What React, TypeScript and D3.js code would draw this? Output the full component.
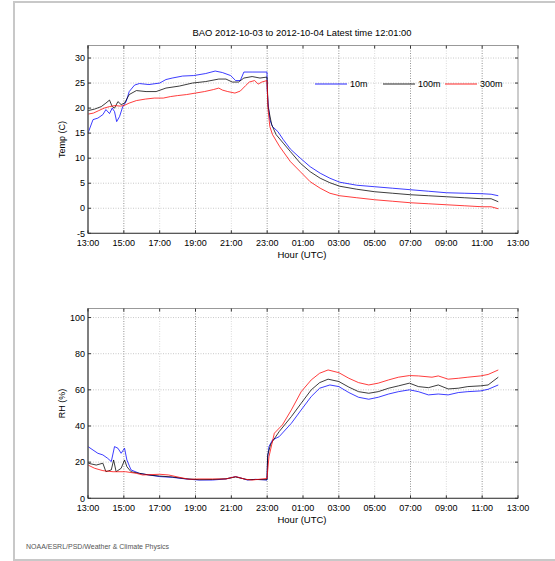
import React from "react";
import * as d3 from "d3";

// Hours since 2012-10-03 13:00 UTC
const xTickHours = [0, 2, 4, 6, 8, 10, 12, 14, 16, 18, 20, 22, 24];
const xTickLabels = ["13:00", "15:00", "17:00", "19:00", "21:00", "23:00", "01:00", "03:00", "05:00", "07:00", "09:00", "11:00", "13:00"];
const tempTicks = [-5, 0, 5, 10, 15, 20, 25, 30];
const rhTicks = [0, 20, 40, 60, 80, 100];
const seriesNames = ["10m", "100m", "300m"];
const seriesColors = ["#0000ff", "#000000", "#ff0000"];

// Temperature (C)
const t10Hours = [0, 0.28, 0.55, 0.83, 1.0, 1.2, 1.35, 1.48, 1.6, 1.76, 1.94, 2.13, 2.3, 2.6, 2.87, 3.4, 4.0, 4.35, 4.7, 5.28, 5.9, 6.57, 7.1, 7.5, 7.96, 8.24, 8.5, 8.7, 9.16, 9.6, 9.99, 10.0, 10.05, 10.15, 10.3, 10.6, 10.9, 11.3, 11.85, 12.4, 12.96, 13.5, 14.05, 15, 16, 17, 18, 19, 20, 21, 22, 22.5, 22.9];
const t10Values = [15.0, 17.7, 18.0, 18.7, 19.7, 18.9, 20.0, 19.3, 17.3, 18.3, 20.3, 21.3, 23.3, 24.6, 24.9, 24.7, 25.0, 25.7, 26.0, 26.4, 26.5, 26.9, 27.4, 27.1, 26.5, 25.5, 25.5, 27.2, 27.2, 27.2, 27.2, 23.7, 21.0, 17.7, 16.3, 15.3, 13.7, 11.8, 10.0, 8.3, 7.0, 6.0, 5.2, 4.6, 4.3, 4.0, 3.7, 3.4, 3.1, 3.0, 2.9, 2.8, 2.5];

const t100Hours = [0, 0.37, 0.74, 1.0, 1.2, 1.35, 1.48, 1.67, 1.85, 2.04, 2.3, 2.7, 3.24, 3.8, 4.35, 5.1, 5.83, 6.57, 7.3, 7.7, 8.05, 8.4, 8.7, 9.16, 9.6, 9.99, 10.05, 10.25, 10.5, 10.9, 11.3, 11.85, 12.4, 12.96, 13.5, 14.05, 15, 16, 17, 18, 19, 20, 21, 22, 22.5, 22.9];
const t100Values = [19.5, 19.8, 20.3, 21.0, 21.6, 20.3, 20.0, 21.3, 20.7, 21.0, 22.7, 23.5, 23.3, 23.3, 24.0, 24.4, 25.0, 25.3, 25.8, 25.8, 25.2, 25.2, 26.0, 26.3, 26.0, 26.2, 20.3, 16.7, 14.7, 13.0, 11.3, 9.0, 7.3, 6.0, 5.1, 4.4, 3.8, 3.3, 3.0, 2.7, 2.5, 2.3, 2.1, 1.9, 1.9, 1.3];

const t300Hours = [0, 0.3, 0.6, 0.9, 1.2, 1.5, 1.8, 2.0, 2.3, 2.7, 3.2, 3.7, 4.2, 4.6, 5.0, 5.5, 6.0, 6.5, 7.0, 7.3, 7.5, 7.8, 8.2, 8.5, 8.8, 9.0, 9.3, 9.5, 9.7, 9.99, 10.05, 10.15, 10.3, 10.7, 11.3, 11.85, 12.4, 12.96, 13.5, 14.05, 15, 16, 17, 18, 19, 20, 21, 22, 22.5, 22.9];
const t300Values = [18.8, 19.0, 19.5, 20.0, 20.3, 20.5, 20.4, 20.5, 21.0, 21.5, 21.8, 22.0, 22.0, 22.3, 22.5, 22.7, 23.0, 23.3, 23.7, 24.0, 23.6, 23.3, 23.0, 23.4, 24.5, 25.2, 25.5, 24.8, 25.2, 25.5, 19.7, 16.3, 14.7, 12.3, 9.3, 7.3, 5.3, 4.0, 3.0, 2.5, 2.1, 1.7, 1.4, 1.1, 0.9, 0.7, 0.5, 0.3, 0.3, -0.1];

// Relative humidity (%)
const rh10Hours = [0, 0.28, 0.55, 0.83, 1.1, 1.3, 1.48, 1.67, 1.85, 2.04, 2.17, 2.4, 2.87, 3.4, 4.0, 4.7, 5.46, 6.2, 6.94, 7.7, 8.24, 8.6, 8.9, 9.35, 9.99, 10.02, 10.1, 10.3, 10.67, 11.35, 11.9, 12.46, 12.93, 13.5, 14.0, 14.56, 15.1, 15.67, 16.2, 16.78, 17.33, 17.94, 18.44, 19.0, 19.55, 20.1, 20.67, 21.2, 21.9, 22.33, 22.9];
const rh10Values = [28.6, 26.7, 24.9, 24.0, 22.1, 20.3, 28.6, 27.7, 24.9, 27.7, 21.2, 15.7, 13.8, 12.9, 12.0, 11.6, 10.7, 10.1, 10.1, 10.7, 12.0, 11.0, 10.1, 10.5, 10.1, 22.0, 28.6, 32.3, 34.1, 41.5, 48.9, 56.3, 60.9, 62.7, 61.8, 58.5, 55.9, 54.8, 55.9, 57.7, 59.0, 60.0, 59.0, 57.2, 57.7, 57.2, 58.5, 59.0, 59.4, 60.3, 62.7];

const rh100Hours = [0, 0.46, 0.83, 1.0, 1.3, 1.43, 1.57, 1.85, 2.04, 2.17, 2.4, 2.87, 3.4, 4.0, 4.7, 5.46, 6.2, 6.94, 7.7, 8.24, 8.6, 8.9, 9.35, 9.99, 10.03, 10.2, 10.67, 11.35, 11.9, 12.46, 12.93, 13.4, 14.0, 14.56, 15.1, 15.67, 16.2, 16.78, 17.33, 17.94, 18.44, 19.0, 19.55, 20.1, 20.67, 21.2, 21.9, 22.33, 22.9];
const rh100Values = [19.4, 18.4, 19.4, 14.7, 15.7, 21.2, 14.7, 16.6, 21.2, 17.5, 14.7, 13.8, 12.9, 12.3, 11.8, 10.8, 10.3, 10.4, 10.8, 11.8, 11.0, 10.3, 10.4, 10.3, 24.0, 30.0, 36.9, 45.2, 52.6, 60.0, 64.0, 65.9, 64.6, 61.5, 59.0, 58.1, 59.0, 60.9, 62.2, 63.7, 61.8, 61.2, 62.7, 60.5, 60.9, 61.8, 62.2, 62.7, 67.0];

const rh300Hours = [0, 0.37, 0.83, 1.4, 2.1, 2.7, 3.05, 4.0, 4.5, 5.1, 5.65, 6.2, 6.94, 7.7, 8.24, 8.8, 9.16, 9.99, 10.1, 10.4, 10.85, 11.35, 11.9, 12.46, 12.93, 13.4, 14.0, 14.56, 15.1, 15.67, 16.2, 16.78, 17.33, 17.94, 18.44, 19.2, 19.55, 20.1, 20.67, 21.2, 21.9, 22.33, 22.9];
const rh300Values = [18.4, 16.6, 15.3, 14.7, 14.7, 13.8, 12.9, 13.3, 12.9, 11.6, 10.5, 10.7, 10.7, 10.7, 12.0, 10.5, 10.1, 11.0, 23.0, 36.0, 40.6, 48.9, 59.0, 65.5, 69.2, 71.0, 69.5, 66.4, 64.0, 62.7, 63.7, 65.5, 67.0, 67.9, 67.7, 67.0, 67.7, 65.9, 66.4, 67.0, 67.7, 68.5, 71.0];

const titleText = "BAO 2012-10-03 to 2012-10-04 Latest time 12:01:00";
const footerText = "NOAA/ESRL/PSD/Weather & Climate Physics";

const W = 555;
const H = 561;
const FONT = "'Liberation Sans', Arial, sans-serif";

type Panel = {
  top: number;
  bottom: number;
  domain: [number, number];
  ticks: number[];
  ylabel: string;
  series: { hours: number[]; values: number[] }[];
  legend: boolean;
};

const LEFT = 88;
const RIGHT = 518;

function PanelView({ p }: { p: Panel }) {
  const x = d3.scaleLinear().domain([0, 24]).range([LEFT, RIGHT]);
  const y = d3.scaleLinear().domain(p.domain).range([p.bottom, p.top]);
  const line = d3
    .line<[number, number]>()
    .x((d) => x(d[0]))
    .y((d) => y(d[1]));
  const strongX = new Set([2, 6, 10, 14, 18, 22]);
  return (
    <g>
      {/* grid */}
      {xTickHours.slice(1, -1).map((h) => (
        <line
          key={"gx" + h}
          x1={x(h)}
          x2={x(h)}
          y1={p.top}
          y2={p.bottom}
          stroke={strongX.has(h) ? "#777" : "#cfcfcf"}
          strokeWidth={0.8}
          strokeDasharray="1,1.5"
        />
      ))}
      {p.ticks.slice(1).map((v) => (
        <line
          key={"gy" + v}
          x1={LEFT}
          x2={RIGHT}
          y1={y(v)}
          y2={y(v)}
          stroke="#bbb"
          strokeWidth={0.8}
          strokeDasharray="1,1.5"
        />
      ))}
      {/* series */}
      {p.series.map((s, i) => (
        <path
          key={"s" + i}
          d={line(s.hours.map((h, k) => [h, s.values[k]] as [number, number])) || ""}
          fill="none"
          stroke={seriesColors[i]}
          strokeWidth={0.9}
          strokeOpacity={0.85}
        />
      ))}
      {/* box */}
      <rect x={LEFT} y={p.top} width={RIGHT - LEFT} height={p.bottom - p.top} fill="none" stroke="#999" strokeWidth={1} />
      <line x1={LEFT} x2={LEFT} y1={p.top} y2={p.bottom} stroke="#333" strokeWidth={1} />
      <line x1={LEFT} x2={RIGHT} y1={p.bottom} y2={p.bottom} stroke="#444" strokeWidth={1} />
      {/* x ticks */}
      {xTickHours.map((h, i) => (
        <g key={"xt" + i}>
          <line x1={x(h)} x2={x(h)} y1={p.bottom} y2={p.bottom - 3} stroke="#333" strokeWidth={1} />
          <line x1={x(h)} x2={x(h)} y1={p.top} y2={p.top + 3} stroke="#333" strokeWidth={1} />
          <text x={x(h)} y={p.bottom + 12.5} textAnchor="middle" fontSize={9} fontFamily={FONT} fill="#000">
            {xTickLabels[i]}
          </text>
        </g>
      ))}
      {/* y ticks */}
      {p.ticks.map((v) => (
        <g key={"yt" + v}>
          <line x1={LEFT} x2={LEFT + 3} y1={y(v)} y2={y(v)} stroke="#333" strokeWidth={1} />
          <line x1={RIGHT} x2={RIGHT - 3} y1={y(v)} y2={y(v)} stroke="#333" strokeWidth={1} />
          <text x={LEFT - 3} y={y(v) + 3.2} textAnchor="end" fontSize={9} fontFamily={FONT} fill="#000">
            {v}
          </text>
        </g>
      ))}
      <text x={302} y={p.bottom + 25} textAnchor="middle" fontSize={9.5} fontFamily={FONT} fill="#000">
        Hour (UTC)
      </text>
      <text
        transform={`translate(${LEFT - 23},${(p.top + p.bottom) / 2}) rotate(-90)`}
        textAnchor="middle"
        fontSize={9}
        fontFamily={FONT}
        fill="#000"
      >
        {p.ylabel}
      </text>
      {p.legend &&
        seriesNames.map((n, i) => {
          const lx = [315, 383, 445][i];
          const ly = 84;
          return (
            <g key={"lg" + i}>
              <line x1={lx} x2={lx + 32} y1={ly} y2={ly} stroke={seriesColors[i]} strokeWidth={1} strokeOpacity={0.85} />
              <text x={lx + 35} y={ly + 3.2} fontSize={9} fontFamily={FONT} fill="#000">
                {n}
              </text>
            </g>
          );
        })}
    </g>
  );
}

export default function App() {
  const topPanel: Panel = {
    top: 45.5,
    bottom: 233.3,
    domain: [-5, 32.5],
    ticks: tempTicks,
    ylabel: "Temp (C)",
    series: [
      { hours: t10Hours, values: t10Values },
      { hours: t100Hours, values: t100Values },
      { hours: t300Hours, values: t300Values },
    ],
    legend: true,
  };
  const bottomPanel: Panel = {
    top: 308.5,
    bottom: 498.3,
    domain: [0, 105],
    ticks: rhTicks,
    ylabel: "RH (%)",
    series: [
      { hours: rh10Hours, values: rh10Values },
      { hours: rh100Hours, values: rh100Values },
      { hours: rh300Hours, values: rh300Values },
    ],
    legend: false,
  };
  return (
    <svg
      width={W}
      height={H}
      style={{ position: "absolute", left: 0, top: 0, background: "#fff" }}
    >
      <rect x={0} y={0} width={W} height={H} fill="#fff" />
      <line x1={14} x2={14} y1={1} y2={561} stroke="#c8c8c8" strokeWidth={2} />
      <line x1={13} x2={555} y1={2} y2={2} stroke="#c8c8c8" strokeWidth={2} />
      <line x1={13} x2={555} y1={560} y2={560} stroke="#c8c8c8" strokeWidth={2} />
      <text x={302} y={36} textAnchor="middle" fontSize={9.4} fontFamily={FONT} fill="#000">
        {titleText}
      </text>
      <PanelView p={topPanel} />
      <PanelView p={bottomPanel} />
      <text x={26} y={549} fontSize={7} fontFamily={FONT} fill="#555">
        {footerText}
      </text>
    </svg>
  );
}
